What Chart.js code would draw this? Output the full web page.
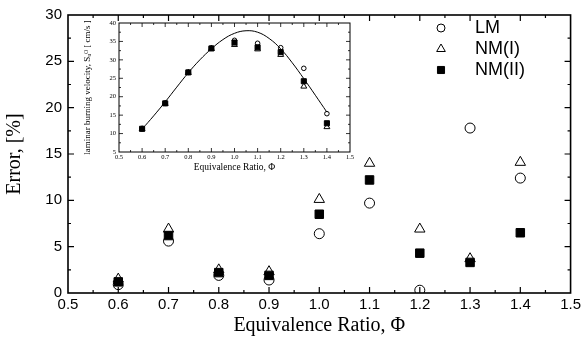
<!DOCTYPE html>
<html>
<head>
<meta charset="utf-8">
<script src="https://cdn.jsdelivr.net/npm/chart.js@4.4.1/dist/chart.umd.min.js"></script>
<style>
    html, body { margin: 0; padding: 0; background: #fff; }
    #wrap { position: relative; width: 584px; height: 339px; }
    #main { position: absolute; left: 0; top: 0; }
    #inset { position: absolute; left: 80px; top: 14px; }
</style>
</head>
<body>
<div id="wrap">
    <canvas id="main" width="584" height="339"></canvas>
    <canvas id="inset" width="280" height="164"></canvas>
</div>
<script>
(function () {
    "use strict";

    // equivalence ratio
    const phi = [0.6, 0.7, 0.8, 0.9, 1.0, 1.1, 1.2, 1.3, 1.4];

    // error [%]
    const errLM = [0.9, 5.6, 1.9, 1.4, 6.4, 9.7, 0.3, 17.8, 12.4];
    const errNM1 = [1.5, 6.9, 2.5, 2.3, 10.1, 14.0, 6.9, 3.7, 14.1];
    const errNM2 = [1.2, 6.2, 2.2, 1.9, 8.5, 12.2, 4.3, 3.3, 6.5];

    // laminar burning velocity [cm/s], inset
    const suLM = [11.3, 18.2, 26.6, 33.2, 35.3, 34.5, 33.3, 27.7, 15.4];
    const suNM1 = [11.2, 18.1, 26.5, 33.0, 34.1, 32.9, 31.4, 22.8, 11.8];
    const suNM2 = [11.3, 18.2, 26.6, 33.1, 34.7, 33.4, 32.1, 24.2, 12.8];

    // reference curve, inset
    const curvePhi = [0.6, 0.65, 0.7, 0.75, 0.8, 0.85, 0.9, 0.95, 1.0, 1.05,
        1.1, 1.15, 1.2, 1.25, 1.3, 1.35, 1.4];
    const curveSu = [11.2, 14.8, 18.6, 22.6, 26.5, 30.0, 33.0, 35.5, 37.2, 37.9,
        37.5, 35.8, 33.0, 29.2, 24.9, 20.4, 15.8];

    const pts = (xs, ys) => xs.map((v, i) => ({ x: v, y: ys[i] }));

    // box round the plot with inward ticks on all four sides
    const frameTicks = {
        id: "frameTicks",
        afterDatasetsDraw(chart, args, opts) {
            const { ctx, chartArea: a, scales } = chart;
            ctx.save();
            ctx.strokeStyle = "#000";
            ctx.lineWidth = opts.lineWidth;
            ctx.strokeRect(a.left, a.top, a.right - a.left, a.bottom - a.top);
            ctx.lineWidth = opts.tickWidth;
            ctx.beginPath();
            const xs = scales.x;
            let n = Math.round((xs.max - xs.min) / opts.xStep);
            for (let i = 1; i < n; i++) {
                const px = xs.getPixelForValue(xs.min + i * opts.xStep);
                const len = i % 2 === 0 ? opts.major : opts.minor;
                ctx.moveTo(px, a.bottom);
                ctx.lineTo(px, a.bottom - len);
                ctx.moveTo(px, a.top);
                ctx.lineTo(px, a.top + len);
            }
            const ys = scales.y;
            n = Math.round((ys.max - ys.min) / opts.yStep);
            for (let i = 1; i < n; i++) {
                const py = ys.getPixelForValue(ys.min + i * opts.yStep);
                const len = i % 2 === 0 ? opts.major : opts.minor;
                ctx.moveTo(a.left, py);
                ctx.lineTo(a.left + len, py);
                ctx.moveTo(a.right, py);
                ctx.lineTo(a.right - len, py);
            }
            ctx.stroke();
            ctx.restore();
        },
    };

    // vertical legend in the top right corner
    const pointLegend = {
        id: "pointLegend",
        afterDraw(chart, args, opts) {
            if (!opts.show) return;
            const ctx = chart.ctx;
            ctx.save();
            ctx.font = opts.font;
            ctx.textBaseline = "middle";
            chart.data.datasets.forEach((ds, i) => {
                const yy = opts.y + i * opts.gap;
                ctx.strokeStyle = ds.borderColor;
                ctx.fillStyle = ds.backgroundColor;
                ctx.lineWidth = 1;
                Chart.helpers.drawPoint(ctx, {
                    pointStyle: ds.pointStyle,
                    radius: opts.radius[i],
                    borderWidth: 1,
                    rotation: 0,
                }, opts.x, yy);
                ctx.fillStyle = "#000";
                ctx.fillText(ds.label, opts.textX, yy);
            });
            ctx.restore();
        },
    };

    const openStyle = (label, style, data, r) => ({
        label: label,
        data: data,
        pointStyle: style,
        pointRadius: r,
        pointHoverRadius: r,
        pointBorderWidth: 1,
        borderColor: "#000",
        backgroundColor: "rgba(0,0,0,0)",
        showLine: false,
    });
    const filledStyle = (label, data, r) => ({
        label: label,
        data: data,
        pointStyle: "rect",
        pointRadius: r,
        pointHoverRadius: r,
        pointBorderWidth: 1,
        borderColor: "#000",
        backgroundColor: "#000",
        showLine: false,
    });

    const noGrid = { display: false, drawTicks: false, tickLength: 0 };

    // main chart
    new Chart(document.getElementById("main"), {
        type: "scatter",
        data: {
            datasets: [
                openStyle("LM", "circle", pts(phi, errLM), 5),
                openStyle("NM(I)", "triangle", pts(phi, errNM1), 6),
                filledStyle("NM(II)", pts(phi, errNM2), 6),
            ],
        },
        plugins: [frameTicks, pointLegend],
        options: {
            responsive: false,
            animation: false,
            layout: { padding: { top: 13, right: 11, left: 0, bottom: 0 } },
            plugins: {
                legend: { display: false },
                tooltip: { enabled: false },
                frameTicks: { xStep: 0.05, yStep: 2.5, major: 6, minor: 3, lineWidth: 1.6, tickWidth: 1.2 },
                pointLegend: {
                    show: true,
                    x: 441, textX: 475, y: 28, gap: 21,
                    radius: [4, 5, 5],
                    font: "18px 'Liberation Sans', Arial, sans-serif",
                },
            },
            scales: {
                x: {
                    type: "linear",
                    min: 0.5,
                    max: 1.5,
                    afterFit: (s) => { s.height = 46; },
                    grid: noGrid,
                    border: { display: false },
                    ticks: {
                        stepSize: 0.1,
                        padding: 3,
                        color: "#000",
                        font: { family: "'Liberation Sans', Arial, sans-serif", size: 15 },
                        callback: (v) => v.toFixed(1),
                    },
                    title: {
                        display: true,
                        text: "Equivalence Ratio, \u03A6",
                        color: "#000",
                        padding: { top: 0, bottom: 1 },
                        font: { family: "'Liberation Serif', 'Times New Roman', serif", size: 20 },
                    },
                },
                y: {
                    type: "linear",
                    min: 0,
                    max: 30,
                    afterFit: (s) => { s.width = 68; },
                    grid: noGrid,
                    border: { display: false },
                    ticks: {
                        stepSize: 5,
                        padding: 6,
                        color: "#000",
                        font: { family: "'Liberation Sans', Arial, sans-serif", size: 15 },
                    },
                    title: {
                        display: true,
                        text: "Error, [%]",
                        color: "#000",
                        padding: { top: 3, bottom: 3 },
                        font: { family: "'Liberation Serif', 'Times New Roman', serif", size: 20 },
                    },
                },
            },
        },
    });

    // inset chart
    const curve = {
        label: "curve",
        data: pts(curvePhi, curveSu),
        showLine: true,
        borderColor: "#000",
        borderWidth: 1,
        pointRadius: 0,
        tension: 0.4,
        backgroundColor: "rgba(0,0,0,0)",
    };

    new Chart(document.getElementById("inset"), {
        type: "scatter",
        data: {
            datasets: [
                curve,
                openStyle("LM", "circle", pts(phi, suLM), 2.3),
                openStyle("NM(I)", "triangle", pts(phi, suNM1), 3.4),
                filledStyle("NM(II)", pts(phi, suNM2), 3.6),
            ],
        },
        plugins: [frameTicks, pointLegend],
        options: {
            responsive: false,
            animation: false,
            layout: { padding: { top: 9, right: 10, left: 0, bottom: 0 } },
            plugins: {
                legend: { display: false },
                tooltip: { enabled: false },
                frameTicks: { xStep: 0.05, yStep: 2.5, major: 4, minor: 2, lineWidth: 1, tickWidth: 0.8 },
                pointLegend: { show: false },
            },
            scales: {
                x: {
                    type: "linear",
                    min: 0.5,
                    max: 1.5,
                    afterFit: (s) => { s.height = 26; },
                    grid: noGrid,
                    border: { display: false },
                    ticks: {
                        stepSize: 0.1,
                        padding: 1,
                        color: "#000",
                        font: { family: "'Liberation Serif', 'Times New Roman', serif", size: 6.5 },
                        callback: (v) => v.toFixed(1),
                    },
                    title: {
                        display: true,
                        text: "Equivalence Ratio, \u03A6",
                        color: "#000",
                        padding: { top: 0, bottom: 5 },
                        font: { family: "'Liberation Serif', 'Times New Roman', serif", size: 9.5 },
                    },
                },
                y: {
                    type: "linear",
                    min: 5,
                    max: 40,
                    afterFit: (s) => { s.width = 39; },
                    grid: noGrid,
                    border: { display: false },
                    ticks: {
                        stepSize: 5,
                        padding: 3,
                        color: "#000",
                        font: { family: "'Liberation Serif', 'Times New Roman', serif", size: 6.5 },
                    },
                    title: {
                        display: true,
                        text: "laminar burning velocity, S\u1D64\u1D3C [ cm/s ]",
                        color: "#000",
                        padding: { top: 2, bottom: 2 },
                        font: { family: "'Liberation Serif', 'DejaVu Serif', serif", size: 9 },
                    },
                },
            },
        },
    });
})();
</script>
</body>
</html>
